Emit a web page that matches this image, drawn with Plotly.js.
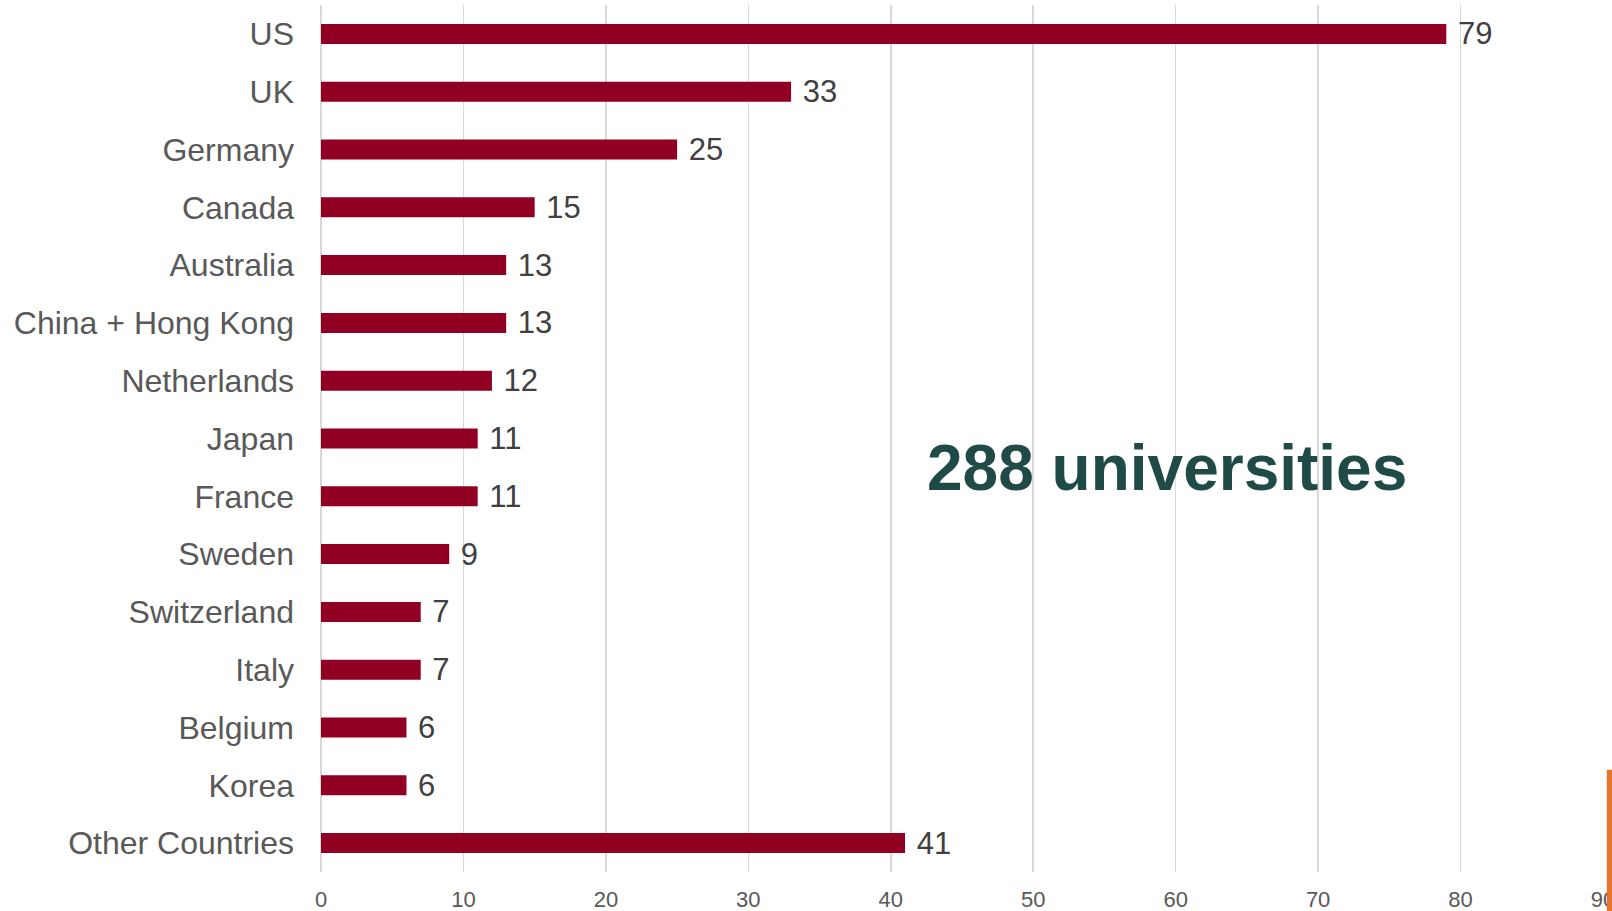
<!DOCTYPE html>
<html>
<head>
<meta charset="utf-8">
<script src="https://cdn.plot.ly/plotly-3.0.1.min.js"></script>
<style>html,body{margin:0;padding:0;background:#fff;}#chart{width:1612px;height:911px;}</style>
</head>
<body>
<div id="chart"></div>
<script>
const countries = ["US","UK","Germany","Canada","Australia","China + Hong Kong","Netherlands","Japan","France","Sweden","Switzerland","Italy","Belgium","Korea","Other Countries"];
const universities = [79,33,25,15,13,13,12,11,11,9,7,7,6,6,41];
const xTicks = [0,10,20,30,40,50,60,70,80,90];
const totalLabel = "288 universities";

const trace = {
  type: "bar",
  orientation: "h",
  y: countries,
  x: universities,
  marker: {color: "#910023"},
  text: universities.map(v => " " + v),
  textposition: "outside",
  constraintext: "none",
  cliponaxis: false,
  textfont: {family: "Liberation Sans, Arial, sans-serif", size: 31, color: "#404040"},
  hoverinfo: "none"
};

const layout = {
  width: 1612, height: 911,
  margin: {l: 321, r: 9, t: 5, b: 39},
  paper_bgcolor: "#ffffff",
  plot_bgcolor: "#ffffff",
  bargap: 0.654,
  showlegend: false,
  font: {family: "Liberation Sans, Arial, sans-serif"},
  xaxis: {
    range: [0, 90],
    tickvals: xTicks,
    ticktext: xTicks.map(String),
    showgrid: true,
    gridcolor: "#d9d9d9",
    gridwidth: 1.5,
    zeroline: true,
    zerolinecolor: "#d9d9d9",
    zerolinewidth: 1.5,
    showline: false,
    ticks: "",
    ticklabelstandoff: 12,
    ticklabeloverflow: "allow",
    tickfont: {size: 22, color: "#595959"}
  },
  yaxis: {
    type: "category",
    autorange: "reversed",
    showgrid: false,
    zeroline: false,
    showline: false,
    ticks: "",
    ticklabelstandoff: 26,
    tickfont: {size: 32, color: "#595959"}
  },
  annotations: [{
    xref: "paper", yref: "paper",
    x: 0.66, y: 0.466,
    xanchor: "center", yanchor: "middle",
    text: "<b>" + totalLabel + "</b>",
    showarrow: false,
    font: {size: 64, color: "#1f4a45", family: "Liberation Sans, Arial, sans-serif"}
  }],
  shapes: [{
    type: "rect", xref: "paper", yref: "paper",
    x0: 1.003, x1: 1.01, y0: -0.05, y1: 0.118,
    fillcolor: "#e8732a", line: {width: 0}, layer: "above"
  }]
};

Plotly.newPlot("chart", [trace], layout, {displayModeBar: false, staticPlot: true});
</script>
</body>
</html>
